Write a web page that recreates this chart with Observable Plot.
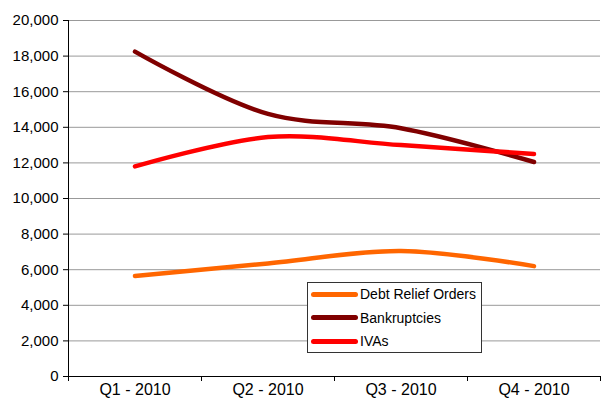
<!DOCTYPE html>
<html>
<head>
<meta charset="utf-8">
<script src="https://cdn.jsdelivr.net/npm/d3@7"></script>
<script src="https://cdn.jsdelivr.net/npm/@observablehq/plot@0.6"></script>
<style>
  html, body { margin: 0; padding: 0; background: #fff; }
  #wrap { position: relative; width: 601px; height: 406px; font-family: "Liberation Sans", Arial, sans-serif; }
  #legend { position: absolute; left: 307px; top: 282px; width: 175px; height: 71px; border: 1px solid #333; background: #fff; box-sizing: border-box; }
  .item { position: absolute; left: 3px; height: 16px; display: flex; align-items: center; font-size: 14px; color: #000; }
  .sw { width: 47px; height: 5px; border-radius: 3px; margin-right: 2px; }
</style>
</head>
<body>
<div id="wrap"></div>
<script>
const categories = ["Q1 - 2010", "Q2 - 2010", "Q3 - 2010", "Q4 - 2010"];
const seriesNames = ["Debt Relief Orders", "Bankruptcies", "IVAs"];
const debtReliefOrders = [5650, 6350, 7050, 6200];
const bankruptcies = [18250, 14750, 13950, 12050];
const ivas = [11800, 13450, 13000, 12500];
const yTicks = [0, 2000, 4000, 6000, 8000, 10000, 12000, 14000, 16000, 18000, 20000];
const colors = ["#FF6600", "#800000", "#FF0000"];

const seriesValues = [debtReliefOrders, bankruptcies, ivas];
const data = [];
seriesNames.forEach((s, k) => seriesValues[k].forEach((v, i) => data.push({series: s, i, value: v})));

const boundaries = d3.range(categories.length + 1).map(i => i - 0.5);

const chart = Plot.plot({
  width: 601,
  height: 406,
  marginLeft: 68,
  marginRight: 1,
  marginTop: 20,
  marginBottom: 30,
  style: {fontFamily: "'Liberation Sans', Arial, sans-serif", color: "#000", background: "#fff"},
  x: {domain: [-0.5, categories.length - 0.5], label: null},
  y: {domain: [0, 20000], label: null},
  color: {domain: seriesNames, range: colors},
  marks: [
    Plot.ruleY(yTicks.filter(d => d > 0), {stroke: "#999", strokeWidth: 1}),
    Plot.axisY({ticks: yTicks, tickFormat: d3.format(","), tickSize: 5, tickPadding: 5, fontSize: 15, label: null, stroke: "#000", strokeOpacity: 1}),
    Plot.ruleX([-0.5], {stroke: "#000"}),
    Plot.ruleY([0], {stroke: "#000"}),
    Plot.axisX({ticks: boundaries, tickFormat: () => "", tickSize: 5, label: null, strokeOpacity: 1}),
    Plot.axisX({ticks: d3.range(categories.length), tickFormat: i => categories[i], tickSize: 0, tickPadding: 7, fontSize: 16, label: null}),
    ...seriesNames.map((s, k) =>
      Plot.line(data.filter(d => d.series === s), {x: "i", y: "value", stroke: colors[k], strokeWidth: 4.5, curve: "catmull-rom", strokeLinecap: "round"})
    )
  ]
});
const wrap = document.getElementById("wrap");
wrap.appendChild(chart);

const legend = document.createElement("div");
legend.id = "legend";
seriesNames.forEach((s, k) => {
  const it = document.createElement("div");
  it.className = "item";
  it.style.top = (3 + k * 23.5) + "px";
  const sw = document.createElement("span");
  sw.className = "sw";
  sw.style.background = colors[k];
  const tx = document.createElement("span");
  tx.textContent = s;
  it.appendChild(sw);
  it.appendChild(tx);
  legend.appendChild(it);
});
wrap.appendChild(legend);
</script>
</body>
</html>
